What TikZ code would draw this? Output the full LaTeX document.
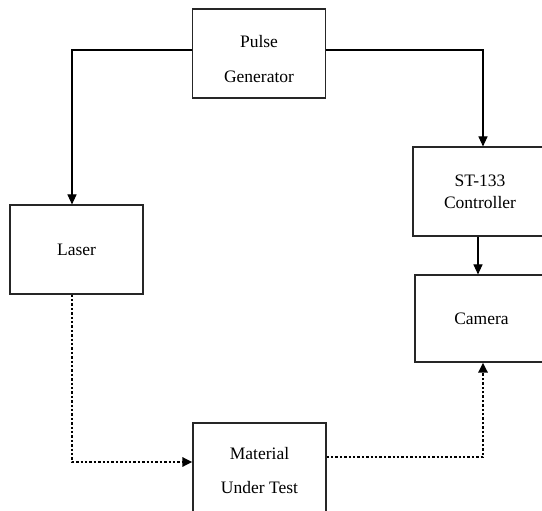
\documentclass[tikz,border=0pt]{standalone}
\usepackage{fontspec}
\setmainfont{Liberation Serif}
\usetikzlibrary{arrows.meta}
\begin{document}
\begin{tikzpicture}[x=1pt,y=-1pt,
  box/.style={draw=black!85,line width=1.1pt,minimum width=133pt,minimum height=89pt,
    inner sep=0pt,align=center,font=\fontsize{17.5}{22}\selectfont},
  link/.style={line width=1.1pt,-{Triangle[length=10pt,width=9pt]}},
  beam/.style={line width=2.5pt,dash pattern=on 2.5pt off 1.9pt,
    -{Triangle[length=10pt,width=9pt]}}]
\useasboundingbox (0,0) rectangle (542,511);
\clip (0,0) rectangle (542,511);
\fill[white] (0,0) rectangle (542,511);
% blocks
\node[box] (pg) at (259,53.5) {\rule{0pt}{23pt}Pulse\\[13pt]Generator};
\node[box] (laser) at (76.5,249.5) {Laser};
\node[box,minimum width=134pt] (ctrl) at (480,191.5) {ST-133\\Controller};
\node[box,minimum height=87pt] (cam) at (481.5,318.5) {Camera};
\node[box,minimum height=90pt] (mut) at (259.5,468) {\rule{0pt}{18pt}Material\\[12pt]Under Test};
% trigger lines
\draw[link] ([yshift=3.5pt]pg.west) -| ([xshift=-4.5pt]laser.north);
\draw[link] ([yshift=3.5pt]pg.east) -| ([xshift=3pt]ctrl.north);
\draw[link] ([xshift=-2pt]ctrl.south) -- ([xshift=-3.5pt]cam.north);
% optical path
\draw[beam] ([xshift=-4.5pt]laser.south) |- ([yshift=6pt]mut.west);
\draw[beam] ([yshift=11pt]mut.east) -| ([xshift=1.5pt]cam.south);
\end{tikzpicture}
\end{document}
